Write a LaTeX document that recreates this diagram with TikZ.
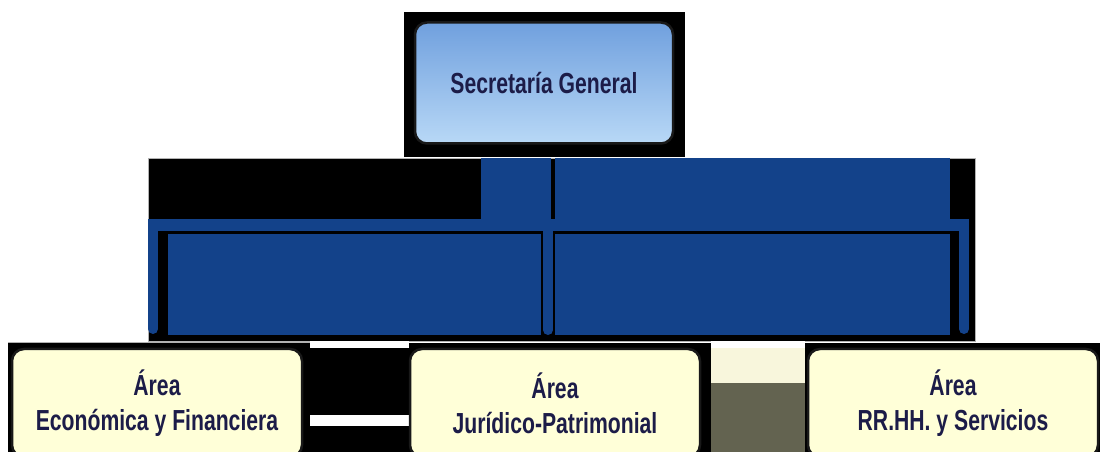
\documentclass[tikz,border=0pt]{standalone}
\usepackage{fontspec}
\newfontfamily\areafont[FakeStretch=0.73]{Liberation Sans}
\usepackage{tikz}
\usetikzlibrary{shapes}
\definecolor{barblue}{RGB}{19,66,138}
\definecolor{skytop}{RGB}{112,160,222}
\definecolor{skybot}{RGB}{184,216,246}
\definecolor{areafill}{RGB}{255,255,216}
\definecolor{navytext}{RGB}{28,28,72}
\definecolor{creamstrip}{RGB}{248,246,220}
\definecolor{olivestrip}{RGB}{99,99,80}
\tikzstyle{jefe} = [rectangle, draw=black!90, line width=2.5pt, rounded corners=12pt, top color=skytop,
bottom color=skybot, minimum width=258pt, minimum height=121pt, text=navytext,
font=\areafont\bfseries\fontsize{29}{35}\selectfont]
\tikzstyle{area} = [rectangle, draw=black!90, line width=2.5pt, rounded corners=12pt, fill=areafill,
minimum width=290pt, minimum height=108pt, align=center, text=navytext,
font=\areafont\bfseries\fontsize{29}{35}\selectfont]
\tikzstyle{bar} = [draw=barblue, line width=10pt, line cap=round]
\tikzstyle{edge} = [draw=gray!60, line width=0.8pt]

\begin{document}
\begin{tikzpicture}[x=1pt, y=1pt, node distance=398pt]
			\useasboundingbox (0,0) rectangle (1100,452);
			\clip (0,0) rectangle (1100,452);
			% black plates behind the boxes
			\fill[black] (404,295) rectangle (685,440);
			\fill[black] (148,111) rectangle (975,294);
			\path[edge] (148,111) rectangle (975,294);
			\fill[black] (8,0) rectangle (1100,109);
			\path[edge] (8,109.5) -- (310,109.5);
			% patches between the lower boxes
			\fill[white] (310,104) rectangle (409,111);
			\fill[white] (310,26) rectangle (409,37);
			\fill[white] (711,104) rectangle (805,111);
			\fill[creamstrip] (711,69) rectangle (805,104);
			\fill[olivestrip] (711,0) rectangle (805,69);
			% blue connector block
			\fill[barblue] (481,233) rectangle (551,294);
			\fill[barblue] (555,233) rectangle (950,294);
			\fill[barblue] (148,221) rectangle (969,233);
			\fill[barblue] (168,117) rectangle (541,218);
			\fill[barblue] (555,117) rectangle (950,218);
			\coordinate (teeecon) at (153,227);
			\coordinate (teejur) at (548,227);
			\coordinate (teerrhh) at (964,227);
			\coordinate (dropecon) at (153,123);
			\coordinate (dropjur) at (548,122);
			\coordinate (droprrhh) at (964,123);
			\path [bar] (teeecon) -- (dropecon);
			\path [bar] (teejur) -- (dropjur);
			\path [bar] (teerrhh) -- (droprrhh);
			% boxes
			\node [jefe] (secgen) at (544,369) {Secretaría General};
			\node [area] (economica) at (157,49) {Área\\Económica y Financiera};
			\node [area, right of=economica] (juridico) {Área\\Jurídico-Patrimonial};
			\node [area, right of=juridico] (rrhh) {Área\\RR.HH. y Servicios};
		\end{tikzpicture}
\end{document}
